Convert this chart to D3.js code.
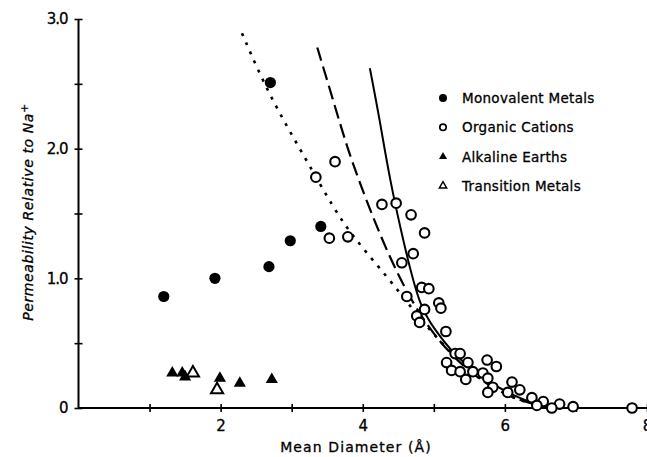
<!DOCTYPE html>
<html>
<head>
<meta charset="utf-8">
<script src="https://cdn.jsdelivr.net/npm/d3@7"></script>
<style>
  body { margin: 0; background: #fff; }
  svg { display: block; }
  text { font-family: "DejaVu Sans", sans-serif; fill: #000; stroke: #000; stroke-width: 0.3px; }
</style>
</head>
<body>
<script>
// ---- data (x = mean diameter in Å, y = permeability rel. to Na+) ----
const monovalent = [[1.20, 0.86], [1.92, 1.00], [2.70, 2.51], [2.68, 1.09], [2.98, 1.29], [3.41, 1.40]];
const organic = [[3.34, 1.78], [3.61, 1.90], [3.53, 1.31], [3.79, 1.32], [4.27, 1.57], [4.47, 1.58],
  [4.68, 1.49], [4.87, 1.35], [4.71, 1.19], [4.55, 1.12], [4.62, 0.86], [4.83, 0.93], [4.93, 0.92],
  [5.07, 0.81], [5.10, 0.77], [4.76, 0.71], [4.80, 0.66], [4.87, 0.76], [5.17, 0.59], [5.30, 0.42],
  [5.37, 0.42], [5.18, 0.35], [5.25, 0.29], [5.37, 0.28], [5.48, 0.35], [5.55, 0.28], [5.45, 0.22],
  [5.75, 0.37], [5.88, 0.32], [5.69, 0.27], [5.76, 0.23], [5.83, 0.16], [5.76, 0.12], [6.10, 0.20],
  [6.04, 0.12], [6.21, 0.14], [6.38, 0.08], [6.54, 0.05], [6.45, 0.02], [6.77, 0.03], [6.96, 0.01],
  [6.66, 0.00], [7.79, 0.00]];
const alkaline = [[1.32, 0.27], [1.46, 0.27], [1.50, 0.24], [1.99, 0.23], [2.27, 0.19], [2.72, 0.22]];
const transition = [[1.61, 0.27], [1.95, 0.14]];

// fitted curves
const solidCurve = [[4.10, 2.62], [4.24, 2.22], [4.38, 1.76], [4.59, 1.24], [4.80, 0.78], [5.02, 0.60],
  [5.27, 0.42], [5.65, 0.24], [6.03, 0.12], [6.45, 0.02], [6.78, 0.00]];
const dashedCurve = [[3.36, 2.78], [3.58, 2.38], [3.79, 1.99], [4.03, 1.63], [4.27, 1.30], [4.52, 1.00],
  [4.78, 0.74], [5.09, 0.50], [5.51, 0.27], [5.93, 0.12], [6.35, 0.03], [6.71, 0.00]];
const dottedCurve = [[2.30, 2.89], [2.69, 2.40], [3.21, 1.91], [3.58, 1.55], [3.86, 1.32], [4.38, 0.99],
  [4.73, 0.74], [5.09, 0.51], [5.51, 0.28], [5.93, 0.12], [6.35, 0.03], [6.71, 0.00]];

const xTicks = [1, 2, 3, 4, 5, 6, 7, 8];
const yTicks = [0, 0.5, 1, 1.5, 2, 2.5, 3];
const yLabels = {0: "0", 1: "1.0", 2: "2.0", 3: "3.0"};
const legendNames = ["Monovalent Metals", "Organic Cations", "Alkaline Earths", "Transition Metals"];

const W = 647, H = 457;
const svg = d3.select("body").append("svg").attr("width", W).attr("height", H);

const x = d3.scaleLinear().domain([0, 8]).range([78.5, 647]);
const y = d3.scaleLinear().domain([0, 3]).range([408, 19]);

/* ** AXES ** */
const xAxis = svg.append("g").attr("transform", `translate(0,${y(0)})`)
  .call(d3.axisBottom(x).tickValues(xTicks).tickSize(4).tickPadding(8)
    .tickFormat(d => d % 2 === 0 ? d : ""));
xAxis.select(".domain").remove();
xAxis.append("line").attr("x1", x(0)).attr("x2", W).attr("stroke", "#000").attr("stroke-width", 2);
xAxis.selectAll(".tick line").attr("y1", -4).attr("y2", 4).attr("stroke-width", 1.6);
xAxis.selectAll(".tick text").attr("font-size", 15).attr("font-family", "DejaVu Sans").attr("dy", "0.75em");

const yAxis = svg.append("g").attr("transform", `translate(${x(0)},0)`)
  .call(d3.axisLeft(y).tickValues(yTicks).tickSize(4).tickPadding(7)
    .tickFormat(d => yLabels[d] || ""));
yAxis.select(".domain").remove();
yAxis.append("line").attr("y1", y(3)).attr("y2", y(0)).attr("stroke", "#000").attr("stroke-width", 2);
yAxis.selectAll(".tick line").attr("x1", -4).attr("x2", 4).attr("stroke-width", 1.6);
yAxis.selectAll(".tick text").attr("font-size", 15).attr("font-family", "DejaVu Sans")
  .attr("letter-spacing", "-1px");

svg.append("text").attr("x", 356).attr("y", 452).attr("text-anchor", "middle")
  .attr("font-size", 14).attr("letter-spacing", "1.1px").text("Mean Diameter (Å)");

const yl = svg.append("text").attr("transform", "translate(33,212) rotate(-90)")
  .attr("text-anchor", "middle").attr("font-size", 14).attr("font-style", "italic")
  .attr("letter-spacing", "0.6px");
yl.append("tspan").text("Permeability  Relative  to  Na");
yl.append("tspan").attr("dy", "-0.5em").attr("font-size", 11).text("+");

/* ** CURVES ** */
const line = d3.line().x(d => x(d[0])).y(d => y(d[1])).curve(d3.curveBasis);
svg.append("path").datum(solidCurve).attr("d", line)
  .attr("fill", "none").attr("stroke", "#000").attr("stroke-width", 2);
svg.append("path").datum(dashedCurve).attr("d", line)
  .attr("fill", "none").attr("stroke", "#000").attr("stroke-width", 2.2).attr("stroke-dasharray", "14,6");
svg.append("path").datum(dottedCurve).attr("d", line)
  .attr("fill", "none").attr("stroke", "#000").attr("stroke-width", 2.6).attr("stroke-dasharray", "3,7");

/* ** POINTS ** */
const tri = d3.symbol().type(d3.symbolTriangle).size(64);
svg.append("g").selectAll("circle").data(organic).enter().append("circle")
  .attr("cx", d => x(d[0])).attr("cy", d => y(d[1])).attr("r", 4.8)
  .attr("fill", "#fff").attr("stroke", "#000").attr("stroke-width", 2.1);
svg.append("g").selectAll("circle").data(monovalent).enter().append("circle")
  .attr("cx", d => x(d[0])).attr("cy", d => y(d[1])).attr("r", 5.6).attr("fill", "#000");
svg.append("g").selectAll("path").data(alkaline).enter().append("path")
  .attr("d", tri).attr("transform", d => `translate(${x(d[0])},${y(d[1])})`).attr("fill", "#000");
svg.append("g").selectAll("path").data(transition).enter().append("path")
  .attr("d", tri).attr("transform", d => `translate(${x(d[0])},${y(d[1])})`)
  .attr("fill", "#fff").attr("stroke", "#000").attr("stroke-width", 2);

/* ** LEGEND ** */
const leg = svg.append("g").attr("transform", "translate(443,98)");
const rows = leg.selectAll("g").data(legendNames).enter().append("g")
  .attr("transform", (d, i) => `translate(0,${i * 29.3})`);
rows.filter((d, i) => i === 0).append("circle").attr("r", 4).attr("fill", "#000");
rows.filter((d, i) => i === 1).append("circle").attr("r", 3.2).attr("fill", "#fff")
  .attr("stroke", "#000").attr("stroke-width", 1.7);
rows.filter((d, i) => i === 2).append("path").attr("d", d3.symbol().type(d3.symbolTriangle).size(28))
  .attr("fill", "#000");
rows.filter((d, i) => i === 3).append("path").attr("d", d3.symbol().type(d3.symbolTriangle).size(24))
  .attr("fill", "#fff").attr("stroke", "#000").attr("stroke-width", 1.4);
rows.append("text").attr("x", 19).attr("y", 5).attr("font-size", 13.5).attr("letter-spacing", "0.3px")
  .text(d => d);
</script>
</body>
</html>
